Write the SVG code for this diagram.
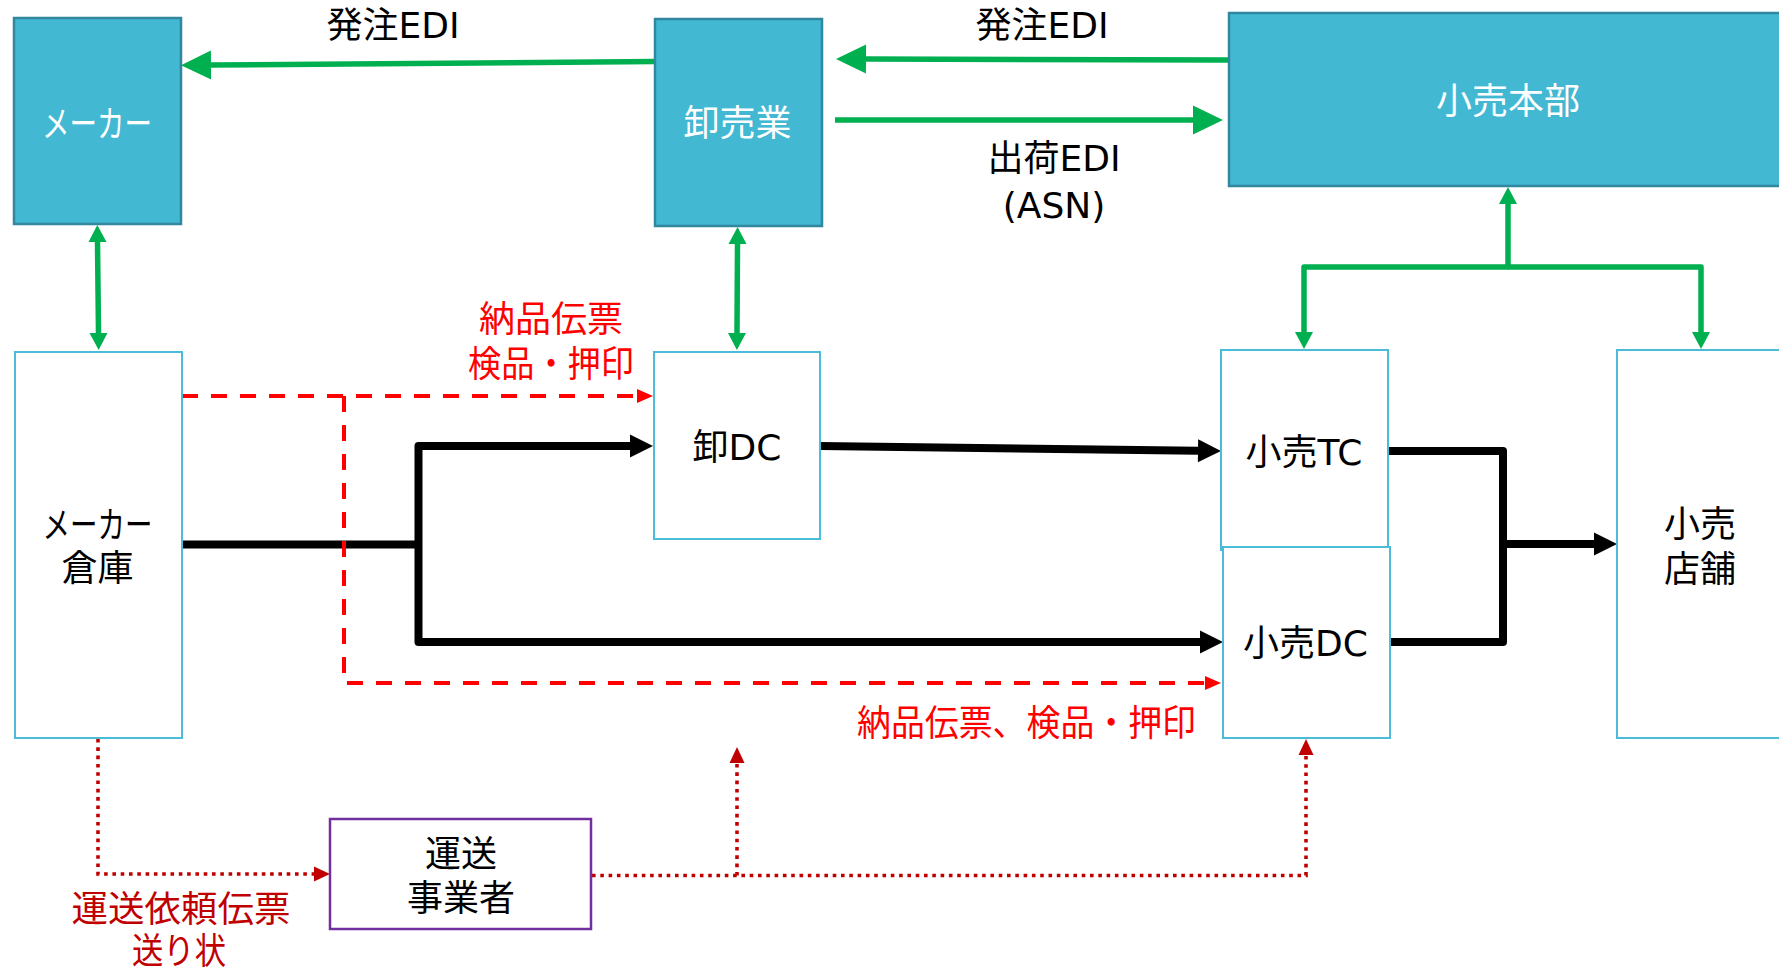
<svg xmlns="http://www.w3.org/2000/svg" width="1779" height="970" viewBox="0 0 1779 970">
<style>
text{font-family:"DejaVu Sans","Noto Sans CJK JP",sans-serif;font-size:36px;text-anchor:middle}
.solid{fill:#42B8D3;stroke:#31879E;stroke-width:2.5}
.box{fill:#fff;stroke:#4BBCD8;stroke-width:2}
.wt{fill:#fff}
.bk{fill:#000}
.rd{fill:#FF0000}
.dr{fill:#C00000}
.g{fill:none;stroke:#00B050;stroke-width:5.5;stroke-linejoin:round}
.b{fill:none;stroke:#000;stroke-width:8;stroke-linejoin:round}
.rdash{fill:none;stroke:#FF0000;stroke-width:4;stroke-dasharray:16 13}
.dot{fill:none;stroke:#C00000;stroke-width:3.6;stroke-dasharray:3.6 4.7}
</style>
<defs>
<marker id="gBig" markerUnits="userSpaceOnUse" viewBox="0 -16 32 32" refX="0" refY="0" markerWidth="32" markerHeight="32" orient="auto-start-reverse" overflow="visible"><path d="M0,-14.5 L30,0 L0,14.5 Z" fill="#00B050"/></marker>
<marker id="gSm" markerUnits="userSpaceOnUse" viewBox="0 -10 18 20" refX="0" refY="0" markerWidth="18" markerHeight="20" orient="auto-start-reverse" overflow="visible"><path d="M0,-9 L17,0 L0,9 Z" fill="#00B050"/></marker>
<marker id="blk" markerUnits="userSpaceOnUse" viewBox="0 -12 24 24" refX="0" refY="0" markerWidth="24" markerHeight="24" orient="auto-start-reverse" overflow="visible"><path d="M0,-11.5 L23,0 L0,11.5 Z" fill="#000"/></marker>
<marker id="red" markerUnits="userSpaceOnUse" viewBox="0 -8 17 16" refX="0" refY="0" markerWidth="17" markerHeight="16" orient="auto-start-reverse" overflow="visible"><path d="M0,-7 L16,0 L0,7 Z" fill="#FF0000"/></marker>
<marker id="dred" markerUnits="userSpaceOnUse" viewBox="0 -8 17 16" refX="0" refY="0" markerWidth="17" markerHeight="16" orient="auto-start-reverse" overflow="visible"><path d="M0,-7.5 L16,0 L0,7.5 Z" fill="#C00000"/></marker>
</defs>
<rect width="1779" height="970" fill="#fff"/>

<g id="connectors">
  <path class="g" d="M655,61.5 L211,65" marker-end="url(#gBig)"/>
  <path class="g" d="M1229,60 L866,59" marker-end="url(#gBig)"/>
  <path class="g" d="M835,120 L1193,120" marker-end="url(#gBig)"/>
  <path class="g" d="M97.5,242 L98.5,333" marker-start="url(#gSm)" marker-end="url(#gSm)"/>
  <path class="g" d="M737.5,244 L737,333" marker-start="url(#gSm)" marker-end="url(#gSm)"/>
  <path class="g" d="M1508,204 V267 H1304 V332" marker-start="url(#gSm)" marker-end="url(#gSm)"/>
  <path class="g" d="M1508,267 H1701 V332" marker-end="url(#gSm)"/>

  <path class="b" d="M182,544.5 H418.5"/>
  <path class="b" d="M630,446 H418.5 V642 H1200" marker-start="url(#blk)" marker-end="url(#blk)"/>
  <path class="b" d="M820,446 L1198,450.8" marker-end="url(#blk)"/>
  <path class="b" d="M1388,451 H1503 V642 H1390"/>
  <path class="b" d="M1503,544 H1594" marker-end="url(#blk)"/>

  <path class="rdash" d="M182,396 H637" marker-end="url(#red)"/>
  <path class="rdash" d="M344,396 V683 H1205" marker-end="url(#red)"/>

  <path class="dot" d="M98,739 V874 H314" marker-end="url(#dred)"/>
  <path class="dot" d="M592,875.5 H1306 V755" marker-end="url(#dred)"/>
  <path class="dot" d="M737,875.5 V763" marker-end="url(#dred)"/>
</g>

<g id="n-maker">
  <rect class="solid" x="14" y="18" width="167" height="206"/>
  <text class="wt" x="97" y="136.5" textLength="110" lengthAdjust="spacingAndGlyphs">メーカー</text>
</g>
<g id="n-oroshi">
  <rect class="solid" x="655" y="19" width="167" height="207"/>
  <text class="wt" x="737.5" y="136">卸売業</text>
</g>
<g id="n-honbu">
  <rect class="solid" x="1229" y="13" width="580" height="173"/>
  <text class="wt" x="1508" y="114">小売本部</text>
</g>
<g id="n-soko">
  <rect class="box" x="15" y="352" width="167" height="386"/>
  <text class="bk" x="97.5" y="538" textLength="110" lengthAdjust="spacingAndGlyphs">メーカー</text>
  <text class="bk" x="97.5" y="581">倉庫</text>
</g>
<g id="n-oroshidc">
  <rect class="box" x="654" y="352" width="166" height="187"/>
  <text class="bk" x="737" y="460">卸DC</text>
</g>
<g id="n-tc">
  <rect class="box" x="1221" y="350" width="167" height="200"/>
  <text class="bk" x="1304" y="465">小売TC</text>
</g>
<g id="n-dc">
  <rect class="box" x="1223" y="547" width="167" height="191"/>
  <text class="bk" x="1305.5" y="656">小売DC</text>
</g>
<g id="n-tenpo">
  <rect class="box" x="1617" y="350" width="200" height="388"/>
  <text class="bk" x="1700" y="537">小売</text>
  <text class="bk" x="1700" y="582">店舗</text>
</g>
<g id="n-unso">
  <rect x="330" y="819" width="261" height="110" fill="#fff" stroke="#7030A0" stroke-width="2.5"/>
  <text class="bk" x="461" y="867">運送</text>
  <text class="bk" x="461" y="910.5">事業者</text>
</g>

<g id="labels">
  <text class="bk" x="393" y="38">発注EDI</text>
  <text class="bk" x="1042" y="38">発注EDI</text>
  <text class="bk" x="1054" y="171">出荷EDI</text>
  <text class="bk" x="1054" y="218">(ASN)</text>
  <text class="rd" x="551" y="332">納品伝票</text>
  <text class="rd" x="551" y="377" textLength="166" lengthAdjust="spacingAndGlyphs">検品・押印</text>
  <text class="rd" x="1026.5" y="735.5" textLength="339" lengthAdjust="spacingAndGlyphs">納品伝票、検品・押印</text>
  <text class="dr" x="181" y="922" textLength="219" lengthAdjust="spacingAndGlyphs">運送依頼伝票</text>
  <text class="dr" x="179" y="964" textLength="94" lengthAdjust="spacingAndGlyphs">送り状</text>
</g>
</svg>
